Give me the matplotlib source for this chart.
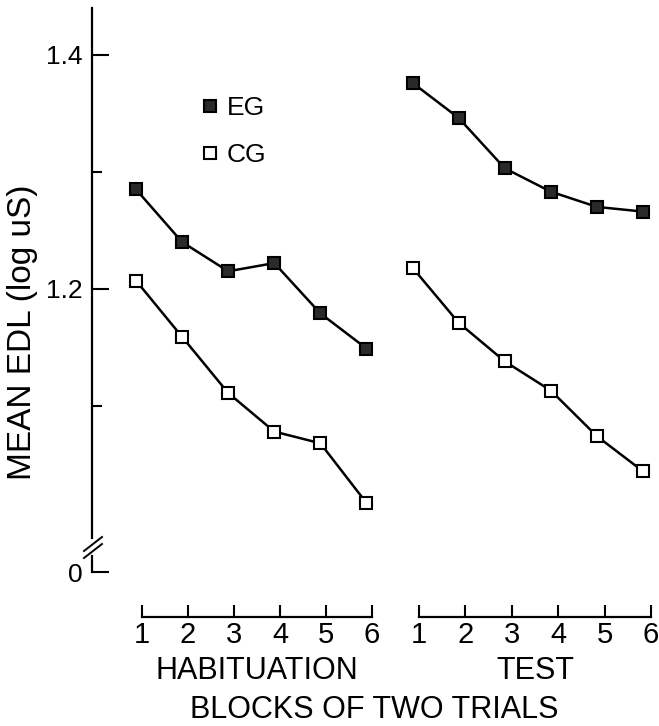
import matplotlib
matplotlib.use("Agg")
import matplotlib.pyplot as plt
from matplotlib.lines import Line2D

plt.rcParams['font.family'] = ['Liberation Sans', 'DejaVu Sans']

# data (mean EDL, log uS) per block of two trials
blocks = [1, 2, 3, 4, 5, 6]
eg_hab = [1.285, 1.240, 1.215, 1.222, 1.179, 1.149]
cg_hab = [1.207, 1.159, 1.111, 1.078, 1.068, 1.017]
eg_test = [1.376, 1.346, 1.303, 1.283, 1.270, 1.266]
cg_test = [1.218, 1.171, 1.138, 1.113, 1.074, 1.044]
ytick_vals = [1.2, 1.4]
ytick_minor = [1.1, 1.3]
y_floor = 0.958  # where the broken axis shows "0"

W, H = 659, 726
fig = plt.figure(figsize=(W / 100, H / 100), dpi=100)


def px(x0, y0, x1, y1):
    return [x0 / W, 1 - y1 / H, (x1 - x0) / W, (y1 - y0) / H]


ax = fig.add_axes(px(92, 8, 659, 572))
ax.set_xlim(0.046, 12.345)
ax.set_ylim(y_floor, 1.44)

style = dict(color='black', lw=1.8, markersize=8.8, markeredgewidth=1.5,
             markeredgecolor='black', clip_on=False)
test_x = [b + 6 for b in blocks]
ax.plot(blocks, eg_hab, marker='s', markerfacecolor='#2a2a2a', **style)
ax.plot(test_x, eg_test, marker='s', markerfacecolor='#2a2a2a', **style)
ax.plot(blocks, cg_hab, marker='s', markerfacecolor='white', **style)
ax.plot(test_x, cg_test, marker='s', markerfacecolor='white', **style)

for s in ['top', 'right', 'bottom']:
    ax.spines[s].set_visible(False)
ax.spines['left'].set_linewidth(1.6)
ax.spines['left'].set_bounds(0.987, 1.44)
ax.plot([0, 0], [y_floor, 0.972], color='black', lw=1.6,
        transform=ax.get_yaxis_transform(), clip_on=False)
# break marks
for dy in [0, 7]:
    fig.add_artist(Line2D([84 / W, 102 / W], [1 - (551 + dy) / H, 1 - (537 + dy) / H],
                          color='black', lw=1.4))

ax.set_xticks([])
ax.set_yticks([y_floor] + ytick_vals)
ax.set_yticklabels(['0'] + [f'{v:.1f}' for v in ytick_vals])
ax.set_yticks(ytick_minor, minor=True)
ax.tick_params(axis='y', which='major', direction='in', length=12, width=1.5,
               labelsize=19, pad=7)
ax.tick_params(axis='y', which='minor', direction='in', length=7, width=1.5)

handles = [Line2D([], [], ls='none', marker='s', markersize=8.8, markeredgewidth=1.5,
                  markeredgecolor='black', markerfacecolor='#2a2a2a'),
           Line2D([], [], ls='none', marker='s', markersize=8.8, markeredgewidth=1.5,
                  markeredgecolor='black', markerfacecolor='white')]
ax.legend(handles, ['EG', 'CG'], loc='upper left', frameon=False, fontsize=19,
          handlelength=0.6, handletextpad=0.35, labelspacing=0.9,
          bbox_to_anchor=(178 / W, 1 - 72 / H), bbox_transform=fig.transFigure)

fig.text(23 / W, 1 - 332 / H, 'MEAN EDL (log uS)', rotation=90, ha='center',
         va='center', fontsize=24)

for (x0, x1), name in [((142, 372), 'HABITUATION'), ((419, 651), 'TEST')]:
    axx = fig.add_axes(px(x0, 605, x1, 617))
    axx.set_xlim(1, 6)
    axx.patch.set_visible(False)
    for s in ['top', 'right', 'left']:
        axx.spines[s].set_visible(False)
    axx.spines['bottom'].set_linewidth(1.6)
    axx.set_yticks([])
    axx.set_xticks(blocks)
    axx.set_xticklabels([str(b) for b in blocks])
    axx.tick_params(axis='x', direction='in', length=8.5, width=1.5,
                    labelsize=21, pad=3)
    axx.set_xlabel(name, fontsize=22, labelpad=5)

fig.text(374 / W, 1 - 710 / H, 'BLOCKS OF TWO TRIALS', ha='center', va='center',
         fontsize=22)

fig.savefig('out.png', dpi=100, facecolor='white')
